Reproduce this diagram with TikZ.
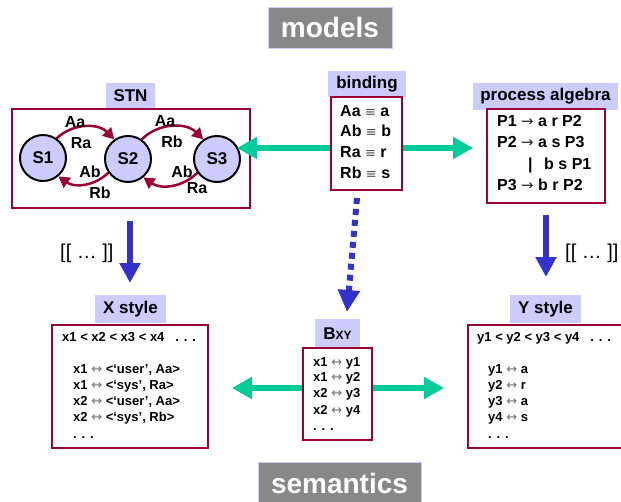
\documentclass[tikz,border=0pt]{standalone}
\usepackage{fontspec}
\setmainfont{Liberation Sans}
\newfontfamily\symfont{DejaVu Sans}
\usetikzlibrary{arrows.meta}
\definecolor{dred}{RGB}{153,0,51}
\definecolor{lav}{RGB}{204,204,255}
\definecolor{tgreen}{RGB}{0,204,153}
\definecolor{pblue}{RGB}{51,51,204}
\definecolor{pgray}{RGB}{136,136,136}
\newcommand{\fsz}[1]{\fontsize{#1}{#1}\selectfont}
\newcommand{\eqv}{{\symfont\mdseries\fsz{13}\color{black!70}≡}}
\newcommand{\rarr}{{\symfont\mdseries\fsz{15}\color{black!85}→}}
\newcommand{\lrar}{{\symfont\mdseries\fsz{13}\color{black!55}↔}}
\begin{document}
\begin{tikzpicture}[x=1pt,y=-1pt,
  rbox/.style={draw=dred,line width=2.5pt,fill=white,inner sep=0pt},
  lbl/.style={fill=lav,inner sep=0pt,font=\fsz{17}\bfseries},
  head/.style={fill=pgray,draw=lav,line width=0.6pt,inner sep=0pt,text=white,font=\fsz{28}\bfseries},
  state/.style={circle,draw=black,line width=2pt,fill=lav,minimum size=46pt,inner sep=0pt,font=\fsz{17}\bfseries},
  trans/.style={draw=dred,line width=2.5pt,-{Triangle[length=11pt,width=12pt]}},
  alab/.style={inner sep=0pt,font=\fsz{16}\bfseries},
  txtl/.style={inner sep=0pt,anchor=west,text height=0.7em,text depth=0pt},
  big/.style={txtl,font=\fsz{16}\bfseries},
  small/.style={txtl,font=\fsz{13}\bfseries},
  garrow/.style={draw=tgreen,line width=6pt,-{Triangle[length=20pt,width=21pt]}},
  barrow/.style={draw=pblue,line width=6pt,-{Triangle[length=20pt,width=20pt]}},
  darrow/.style={draw=pblue,line width=6pt,dash pattern=on 6pt off 5pt,-{Triangle[length=22pt,width=21pt]}},
  brk/.style={inner sep=0pt,anchor=west,font=\fsz{20}}
]
\clip (0,0) rectangle (621,501);
\useasboundingbox (0,0) rectangle (621,501);
\fill[white] (0,0) rectangle (621,501);

% headers
\node[head,minimum width=124pt,minimum height=41pt] (models) at (330,27.5) {models};
\node[head,minimum width=163pt,minimum height=43pt] (sem) at (339.5,483.5) {semantics};

% STN
\node[lbl,minimum width=49pt,minimum height=25pt] (stnl) at (130.5,95.5) {STN};
\node[rbox,minimum width=238pt,minimum height=99pt] (stn) at (131,158.5) {};
\node[state] (s1) at (43,158) {S1};
\node[state] (s2) at (128,159) {S2};
\node[state] (s3) at (217,159) {S3};
\draw[trans] (s1.55) to[bend left=45] (s2.125);
\draw[trans] (s2.215) to[bend left=40] (s1.-50);
\draw[trans] (s2.55) to[bend left=45] (s3.125);
\draw[trans] (s3.215) to[bend left=40] (s2.-50);
\node[alab] (l1) at (75,122) {Aa};
\node[alab] (l2) at (81,143) {Ra};
\node[alab] (l3) at (90,172) {Ab};
\node[alab] (l4) at (100,193) {Rb};
\node[alab] (l5) at (165,121) {Aa};
\node[alab] (l6) at (172,142) {Rb};
\node[alab] (l7) at (182,172) {Ab};
\node[alab] (l8) at (197,188) {Ra};

% binding
\node[lbl,minimum width=78pt,minimum height=26pt] (bindl) at (367,84) {binding};
\node[rbox,minimum width=71pt,minimum height=93pt] (bind) at (366.5,143.5) {};
\node[big] (b1) at (340,113) {Aa \eqv\ a};
\node[big] (b2) at (340,133) {Ab \eqv\ b};
\node[big] (b3) at (340,154) {Ra \eqv\ r};
\node[big] (b4) at (340,175) {Rb \eqv\ s};

% process algebra
\node[lbl,minimum width=145pt,minimum height=27pt] (pal) at (545.5,96.5) {process algebra};
\node[rbox,minimum width=118pt,minimum height=94pt] (pa) at (546,156) {};
\node[big] (p1) at (497,123) {P1 \rarr\ a r P2};
\node[big] (p2) at (497,144) {P2 \rarr\ a s P3};
\node[big] (p3) at (528,166) {\makebox[16pt][l]{|}b s P1};
\node[big] (p4) at (497,187) {P3 \rarr\ b r P2};

% X style
\node[lbl,minimum width=71pt,minimum height=28pt] (xl) at (130.5,309) {X style};
\node[rbox,minimum width=156pt,minimum height=123pt] (xb) at (130,386.5) {};
\node[small] (x0) at (62,338) {x1 < x2 < x3 < x4\hspace{11pt}. . .};
\node[small] (x1) at (73,370) {x1 \lrar\ <‘user’, Aa>};
\node[small] (x2) at (73,386) {x1 \lrar\ <‘sys’, Ra>};
\node[small] (x3) at (73,402) {x2 \lrar\ <‘user’, Aa>};
\node[small] (x4) at (73,418) {x2 \lrar\ <‘sys’, Rb>};
\node[small] (x5) at (73,435) {. . .};

% Bxy
\node[lbl,minimum width=45pt,minimum height=29pt] (bxyl) at (337.5,333.5) {B{\fsz{12}XY}};
\node[rbox,minimum width=69pt,minimum height=92pt] (bxy) at (337.5,394) {};
\node[small] (z1) at (313,363) {x1 \lrar\ y1};
\node[small] (z2) at (313,378) {x1 \lrar\ y2};
\node[small] (z3) at (313,394) {x2 \lrar\ y3};
\node[small] (z4) at (313,411) {x2 \lrar\ y4};
\node[small] (z5) at (313,427) {. . .};

% Y style
\node[lbl,minimum width=71pt,minimum height=28pt] (yl) at (545.5,309) {Y style};
\node[rbox,minimum width=164pt,minimum height=123pt] (yb) at (550,386.5) {};
\node[small] (y0) at (477,338) {y1 < y2 < y3 < y4\hspace{11pt}. . .};
\node[small] (y1) at (488,370) {y1 \lrar\ a};
\node[small] (y2) at (488,386) {y2 \lrar\ r};
\node[small] (y3) at (488,402) {y3 \lrar\ a};
\node[small] (y4) at (488,418) {y4 \lrar\ s};
\node[small] (y5) at (488,435) {. . .};

% green arrows
\coordinate (gl1) at (237,148);
\coordinate (gr1) at (473,148);
\coordinate (gl2) at (232,388);
\coordinate (gr2) at (444,388);
\draw[garrow] (bind.west |- gl1) -- (gl1);
\draw[garrow] (bind.east |- gr1) -- (gr1);
\draw[garrow] (bxy.west |- gl2) -- (gl2);
\draw[garrow] (bxy.east |- gr2) -- (gr2);

% blue arrows
\coordinate (bls) at (130,221);
\coordinate (ble) at (130,283);
\coordinate (brs) at (546,215);
\coordinate (bre) at (546,277);
\coordinate (bds) at (357,198);
\coordinate (bde) at (347,312);
\draw[barrow] (bls) -- (ble);
\draw[barrow] (brs) -- (bre);
\draw[darrow] (bds) -- (bde);
\node[brk] (k1) at (60,253) {[[ … ]]};
\node[brk] (k2) at (565,253) {[[ … ]]};
\end{tikzpicture}
\end{document}
